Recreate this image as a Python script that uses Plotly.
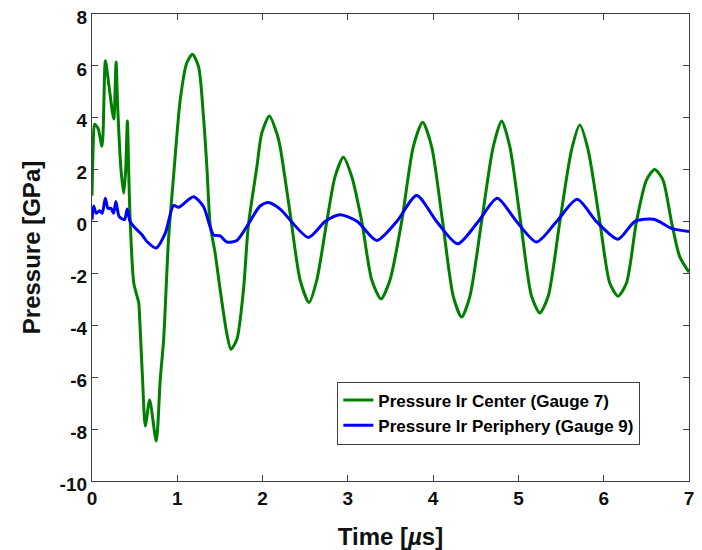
import plotly.graph_objects as go

# ---- data ----
t_center = [0.0, 0.015, 0.03, 0.07, 0.118, 0.157, 0.2, 0.255, 0.282, 0.3, 0.34, 0.372, 0.395, 0.415, 0.43,
            0.448, 0.49, 0.548, 0.556, 0.593, 0.625, 0.676, 0.753, 0.80, 0.84, 0.897, 0.956, 1.034, 1.11,
            1.178, 1.25, 1.307, 1.347, 1.386, 1.444, 1.503, 1.58, 1.628, 1.698, 1.776, 1.834, 1.933, 1.99,
            2.08, 2.167, 2.206, 2.323, 2.44, 2.545, 2.636, 2.753, 2.85, 2.947, 3.046, 3.163, 3.28, 3.389,
            3.494, 3.631, 3.767, 3.877, 3.983, 4.111, 4.236, 4.334, 4.431, 4.568, 4.704, 4.803, 4.9, 5.025,
            5.154, 5.251, 5.349, 5.486, 5.623, 5.72, 5.817, 5.954, 6.071, 6.168, 6.267, 6.384, 6.501, 6.598,
            6.695, 6.794, 6.891, 7.0]
p_center = [1.0, 3.0, 3.75, 3.6, 2.9, 6.2, 5.2, 3.95, 6.15, 4.5, 2.0, 1.09, 2.0, 3.88, 2.0,
            0.0, -2.37, -3.14, -3.52, -6.09, -7.88, -6.88, -8.46, -6.09, -4.55, -0.7, 1.73, 4.68, 6.1,
            6.45, 5.96, 4.04, 2.1, -0.13, -1.22, -2.63, -4.3, -4.92, -4.55, -2.63, -0.13, 2.1, 3.4,
            4.07, 3.4, 2.88, 0.32, -2.25, -3.12, -2.25, 0.0, 1.73, 2.48, 1.73, 0.0, -2.25, -2.98,
            -2.25, 0.0, 2.88, 3.83, 2.88, 0.0, -2.88, -3.68, -2.88, 0.0, 2.88, 3.88, 2.88, 0.0,
            -2.88, -3.52, -2.88, 0.0, 2.76, 3.72, 2.76, 0.0, -2.37, -2.88, -2.37, 0.0, 1.6, 2.01,
            1.6, 0.0, -1.35, -1.95]

t_periph = [0.0, 0.019, 0.05, 0.089, 0.12, 0.156, 0.187, 0.222, 0.253, 0.28, 0.319, 0.382, 0.413, 0.448,
            0.527, 0.586, 0.644, 0.753, 0.859, 0.956, 1.015, 1.19, 1.307, 1.425, 1.503, 1.581, 1.698,
            1.815, 1.971, 2.069, 2.206, 2.537, 2.733, 2.909, 3.111, 3.338, 3.573, 3.807, 4.041, 4.287,
            4.529, 4.751, 4.978, 5.213, 5.447, 5.688, 5.915, 6.168, 6.364, 6.587, 6.794, 7.0]
p_periph = [0.07, 0.6, 0.32, 0.42, 0.32, 0.9, 0.51, 0.51, 0.32, 0.77, 0.19, 0.07, 0.48, 0.0,
            -0.32, -0.51, -0.77, -1.02, -0.45, 0.62, 0.55, 0.96, 0.58, -0.51, -0.55, -0.79, -0.73,
            -0.19, 0.6, 0.73, 0.48, -0.61, 0.0, 0.26, 0.0, -0.73, 0.0, 1.0, 0.0, -0.86,
            0.0, 0.9, 0.0, -0.79, 0.0, 0.86, 0.0, -0.68, 0.0, 0.09, -0.26, -0.38]

x_ticks = [0, 1, 2, 3, 4, 5, 6, 7]
y_ticks = [-10, -8, -6, -4, -2, 0, 2, 4, 6, 8]
y_tick_text = [str(v) for v in y_ticks]  # plain hyphen minus as in the reference

name_center = "Pressure Ir Center (Gauge 7)"
name_periph = "Pressure Ir Periphery (Gauge 9)"

FONT = "Liberation Sans, Arial, Helvetica, sans-serif"
AXIS_COL = "#404040"

fig = go.Figure()
fig.add_trace(go.Scatter(x=t_center, y=p_center, mode="lines", name=name_center,
                         line=dict(color="#008000", width=3, shape="spline", smoothing=0.7)))
fig.add_trace(go.Scatter(x=t_periph, y=p_periph, mode="lines", name=name_periph,
                         line=dict(color="#0000FF", width=3, shape="spline", smoothing=0.7)))

axis_common = dict(showline=True, linecolor=AXIS_COL, linewidth=1.3, mirror="ticks",
                   ticks="inside", ticklen=6, tickcolor=AXIS_COL, tickwidth=1,
                   showgrid=False, zeroline=False, automargin=False,
                   ticklabeloverflow="allow",
                   tickfont=dict(family=FONT, size=19, color="#111111", weight="bold"))

fig.update_xaxes(range=[0, 7], tickvals=x_ticks, ticktext=[str(v) for v in x_ticks],
                 title=dict(text="<b>Time [<i>µ</i>s]</b>", font=dict(family=FONT, size=24, color="#111111"),
                            standoff=30),
                 **axis_common)
fig.update_yaxes(range=[-10, 8], tickvals=y_ticks, ticktext=y_tick_text, ticklabelshift=3,
                 title=dict(text="<b>Pressure [GPa]</b>", font=dict(family=FONT, size=24, color="#111111"),
                            standoff=12),
                 **axis_common)

# the page body adds an 8px offset, so the figure is sized to the visible area
fig.update_layout(
    width=694, height=542,
    margin=dict(l=84, r=13, t=6, b=69),
    paper_bgcolor="white", plot_bgcolor="white",
    showlegend=True,
    legend=dict(x=0.411, y=0.213, xanchor="left", yanchor="top",
                bgcolor="white", bordercolor=AXIS_COL, borderwidth=1,
                font=dict(family=FONT, size=17, color="#000000", weight="bold"),
                itemwidth=30, tracegroupgap=0),
)

fig.write_html("out.html")
